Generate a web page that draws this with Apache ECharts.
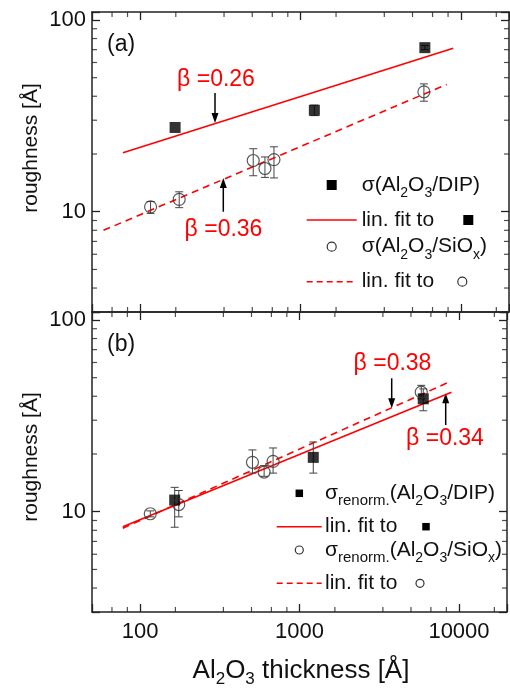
<!DOCTYPE html>
<html>
<head>
<meta charset="utf-8">
<script src="https://cdn.jsdelivr.net/npm/echarts@6/dist/echarts.min.js"></script>
<style>
html,body{margin:0;padding:0;background:#fff}
#chart{width:510px;height:691px}
</style>
</head>
<body>
<div id="chart"></div>
<script>
// panel (a) : [thickness, roughness]  /  error bars [thickness, low, high]
const dipA = [[165, 27.5], [1220, 33.8], [5970, 71.7]];
const dipAErr = [[1220, 31.7, 36.0], [5970, 70, 73.5]];
const sioA = [[116, 10.6], [175, 11.6], [507, 18.5], [600, 16.8], [683, 18.7], [5890, 42.2]];
const sioAErr = [[116, 9.8, 11.3], [175, 10.5, 12.7], [507, 15.4, 21.3], [600, 15.1, 19.3], [683, 15.0, 21.8], [5890, 37.7, 46.4]];
const fitDipA = [[78, 20.3], [8970, 71.1]];
const fitSioA = [[59, 8.0], [8170, 46.1]];

// panel (b)
const dipB = [[165, 11.5], [1220, 19.2], [5970, 38.8]];
const dipBErr = [[165, 8.3, 13.4], [1220, 15.9, 23.1], [5970, 33.6, 43.7]];
const sioB = [[116, 9.76], [175, 10.9], [507, 18.1], [600, 16.1], [683, 18.3], [5800, 42]];
const sioBErr = [[116, 9.4, 10.1], [175, 9.4, 12.9], [507, 15.9, 21.0], [600, 15.3, 17.4], [683, 15.9, 21.5], [5800, 38.8, 45.6]];
const fitDipB = [[78, 8.35], [8970, 42]];
const fitSioB = [[78, 8.2], [8900, 47.9]];

// origin style minor ticks
const xMinor = [66.7, 83.3, 166.7, 333.3, 500, 666.7, 833.3, 1666.7, 3333.3, 5000, 6666.7, 8333.3, 16666.7];
const yMinor = [4, 5, 6, 7, 8, 9, 20, 30, 40, 50, 60, 70, 80, 90];

const xRange = [50, 20000];
const yRange = [3, 110];

const FONT = 'Liberation Sans, Arial, sans-serif';
const AXC = '#222';
const RED = '#ff0000';

var chart = echarts.init(document.getElementById('chart'));

function decadeLabel(v) {
    var l = Math.log10(v);
    return Math.abs(l - Math.round(l)) < 1e-6 ? String(Math.round(v)) : '';
}

function xAx(grid, pos, labels) {
    return {
        type: 'log', logBase: 10, gridIndex: grid, position: pos,
        min: xRange[0], max: xRange[1],
        axisLine: {show: true, onZero: false, lineStyle: {color: AXC, width: 1.5}},
        axisTick: {show: true, inside: true, length: 8, lineStyle: {color: AXC, width: 1.3}},
        axisLabel: {show: labels, margin: 9, fontSize: 22, color: '#111', fontFamily: FONT, formatter: decadeLabel},
        splitLine: {show: false}
    };
}
function yAx(grid, pos, labels) {
    return {
        type: 'log', logBase: 10, gridIndex: grid, position: pos,
        min: yRange[0], max: yRange[1],
        axisLine: {show: true, onZero: false, lineStyle: {color: AXC, width: 1.5}},
        axisTick: {show: true, inside: true, length: 8, lineStyle: {color: AXC, width: 1.3}},
        axisLabel: {show: labels, margin: 6, fontSize: 22, color: '#111', fontFamily: FONT, formatter: decadeLabel},
        splitLine: {show: false}
    };
}

// minor ticks as tiny rect symbols sitting on the box edges, pointing inward
function tickSeries(ax, data, size, offset) {
    return Object.assign({type: 'scatter', data: data, symbol: 'rect', symbolSize: size,
        symbolOffset: offset, clip: false, silent: true, z: 1,
        itemStyle: {color: AXC}}, ax);
}

function errBar(params, api) {
    var x = api.value(0);
    var hi = api.coord([x, api.value(2)]);
    var lo = api.coord([x, api.value(1)]);
    var st = {stroke: '#444', lineWidth: 1};
    return {type: 'group', children: [
        {type: 'line', shape: {x1: hi[0], y1: hi[1], x2: lo[0], y2: lo[1]}, style: st},
        {type: 'line', shape: {x1: hi[0] - 4, y1: hi[1], x2: hi[0] + 4, y2: hi[1]}, style: st},
        {type: 'line', shape: {x1: lo[0] - 4, y1: lo[1], x2: lo[0] + 4, y2: lo[1]}, style: st}
    ]};
}

function panelSeries(g, dip, dipErr, sio, sioErr, fitDip, fitSio, sq) {
    var ax = {xAxisIndex: g * 2, yAxisIndex: g * 2};
    return [
        tickSeries(ax, xMinor.map(v => [v, yRange[0]]), [1.2, 5], [0, -2.5]),
        tickSeries(ax, xMinor.map(v => [v, yRange[1]]), [1.2, 5], [0, 2.5]),
        tickSeries(ax, yMinor.map(v => [xRange[0], v]), [5, 1.2], [2.5, 0]),
        tickSeries(ax, yMinor.map(v => [xRange[1], v]), [5, 1.2], [-2.5, 0]),
        Object.assign({type: 'line', data: fitDip, showSymbol: false, silent: true, z: 2,
            lineStyle: {color: RED, width: 1.6}}, ax),
        Object.assign({type: 'line', data: fitSio, showSymbol: false, silent: true, z: 2,
            lineStyle: {color: RED, width: 1.6, type: [7, 5]}}, ax),
        Object.assign({type: 'custom', renderItem: errBar, data: dipErr, silent: true, z: 3}, ax),
        Object.assign({type: 'custom', renderItem: errBar, data: sioErr, silent: true, z: 3}, ax),
        Object.assign({type: 'scatter', data: dip, symbol: 'rect', symbolSize: sq, z: 4,
            itemStyle: {color: '#000'}}, ax),
        Object.assign({type: 'scatter', data: sio, symbol: 'circle', symbolSize: 12, z: 4,
            itemStyle: {color: 'rgba(0,0,0,0)', borderColor: '#333', borderWidth: 1.2}}, ax)
    ];
}

// text helpers
const rich = {
    n: {fontSize: 21, lineHeight: 30, fontFamily: FONT, fill: '#111'},
    s: {fontSize: 14, lineHeight: 14, verticalAlign: 'bottom', fontFamily: FONT, fill: '#111'},
    r: {fontSize: 15, lineHeight: 14, verticalAlign: 'bottom', fontFamily: FONT, fill: '#111'}
};
function txt(x, y, text, extra) {
    return Object.assign({type: 'text', x: x, y: y, silent: true,
        style: {text: text, rich: rich, fontSize: 21, fontFamily: FONT, fill: '#111', align: 'left', verticalAlign: 'middle'}}, extra || {});
}
function sqr(x, y, s) {
    return {type: 'rect', silent: true, shape: {x: x - s / 2, y: y - s / 2, width: s, height: s}, style: {fill: '#000'}};
}
function circ(x, y, r) {
    return {type: 'circle', silent: true, shape: {cx: x, cy: y, r: r}, style: {fill: 'none', stroke: '#333', lineWidth: 1.2}};
}
function hline(x1, x2, y, dash) {
    return {type: 'line', silent: true, shape: {x1: x1, y1: y, x2: x2, y2: y},
        style: {stroke: RED, lineWidth: 1.6, lineDash: dash || null}};
}
function arrow(x, yTail, yHead) {
    var d = yHead > yTail ? 1 : -1;
    return [
        {type: 'line', silent: true, shape: {x1: x, y1: yTail, x2: x, y2: yHead - d * 8}, style: {stroke: '#000', lineWidth: 1.5}},
        {type: 'polygon', silent: true, shape: {points: [[x - 3.5, yHead - d * 10], [x + 3.5, yHead - d * 10], [x, yHead]]}, style: {fill: '#000'}}
    ];
}
function beta(x, y, t) {
    return {type: 'text', x: x, y: y, silent: true,
        style: {text: t, fontSize: 23, fontFamily: FONT, fill: RED, align: 'center', verticalAlign: 'middle'}};
}

var sigA1 = '{n|σ(Al}{s|2}{n|O}{s|3}{n|/DIP)}';
var sigA2 = '{n|σ(Al}{s|2}{n|O}{s|3}{n|/SiO}{s|x}{n|)}';
var sigB1 = '{n|σ}{r|renorm.}{n|(Al}{s|2}{n|O}{s|3}{n|/DIP)}';
var sigB2 = '{n|σ}{r|renorm.}{n|(Al}{s|2}{n|O}{s|3}{n|/SiO}{s|x}{n|)}';

var graphics = [].concat(
    // panel labels
    [txt(107, 45, '(a)', {style: {text: '(a)', fontSize: 23, fontFamily: FONT, fill: '#111', verticalAlign: 'middle'}}),
     txt(107, 345, '(b)', {style: {text: '(b)', fontSize: 23, fontFamily: FONT, fill: '#111', verticalAlign: 'middle'}})],
    // y titles
    [{type: 'text', x: 31, y: 148, rotation: Math.PI / 2, silent: true,
      style: {text: 'roughness [Å]', fontSize: 21, fontFamily: FONT, fill: '#111', align: 'center', verticalAlign: 'middle'}},
     {type: 'text', x: 31, y: 457, rotation: Math.PI / 2, silent: true,
      style: {text: 'roughness [Å]', fontSize: 21, fontFamily: FONT, fill: '#111', align: 'center', verticalAlign: 'middle'}}],
    // x title
    [txt(301, 671, '', {style: {
        text: '{t|Al}{u|2}{t|O}{u|3}{t| thickness [Å]}', align: 'center', verticalAlign: 'middle',
        rich: {t: {fontSize: 26, lineHeight: 34, fontFamily: FONT, fill: '#111'},
               u: {fontSize: 17, lineHeight: 14, verticalAlign: 'bottom', fontFamily: FONT, fill: '#111'}}}})],
    // legend (a)
    [sqr(331.7, 185, 10), txt(361.7, 185, sigA1),
     hline(306.7, 356.7, 220), txt(361.7, 220, '{n|lin. fit to}'), sqr(468.3, 220, 10),
     circ(331.7, 246.7, 4.5), txt(361.7, 246.7, sigA2),
     hline(306.7, 356.7, 281.7, [6, 4]), txt(361.7, 281.7, '{n|lin. fit to}'), circ(462.3, 281.7, 4.5)],
    // legend (b)
    [sqr(299.3, 493.3, 7.5), txt(325, 493.3, sigB1),
     hline(276.7, 321.7, 526.7), txt(325, 526.7, '{n|lin. fit to}'), sqr(426, 526.7, 7.5),
     circ(299.3, 550, 4), txt(325, 550, sigB2),
     hline(276.7, 321.7, 583.3, [6, 4]), txt(325, 583.3, '{n|lin. fit to}'), circ(420, 583.3, 4)],
    // annotations
    [beta(216, 80, 'β =0.26')], arrow(215, 93, 123),
    [beta(223.5, 230, 'β =0.36')], arrow(223.3, 211.7, 178),
    [beta(392.5, 363.3, 'β =0.38')], arrow(391.7, 378.3, 408.3),
    [beta(445, 438.3, 'β =0.34')], arrow(445.7, 425, 393.3)
);

var option = {
    animation: false,
    backgroundColor: '#fff',
    grid: [
        {left: 92, top: 12, width: 417, height: 300},
        {left: 92, top: 312, width: 417, height: 300}
    ],
    xAxis: [xAx(0, 'bottom', false), xAx(0, 'top', false), xAx(1, 'bottom', true), xAx(1, 'top', false)],
    yAxis: [yAx(0, 'left', true), yAx(0, 'right', false), yAx(1, 'left', true), yAx(1, 'right', false)],
    series: [].concat(
        panelSeries(0, dipA, dipAErr, sioA, sioAErr, fitDipA, fitSioA, 11),
        panelSeries(1, dipB, dipBErr, sioB, sioBErr, fitDipB, fitSioB, 11)
    ),
    graphic: graphics
};

option && chart.setOption(option);
</script>
</body>
</html>
